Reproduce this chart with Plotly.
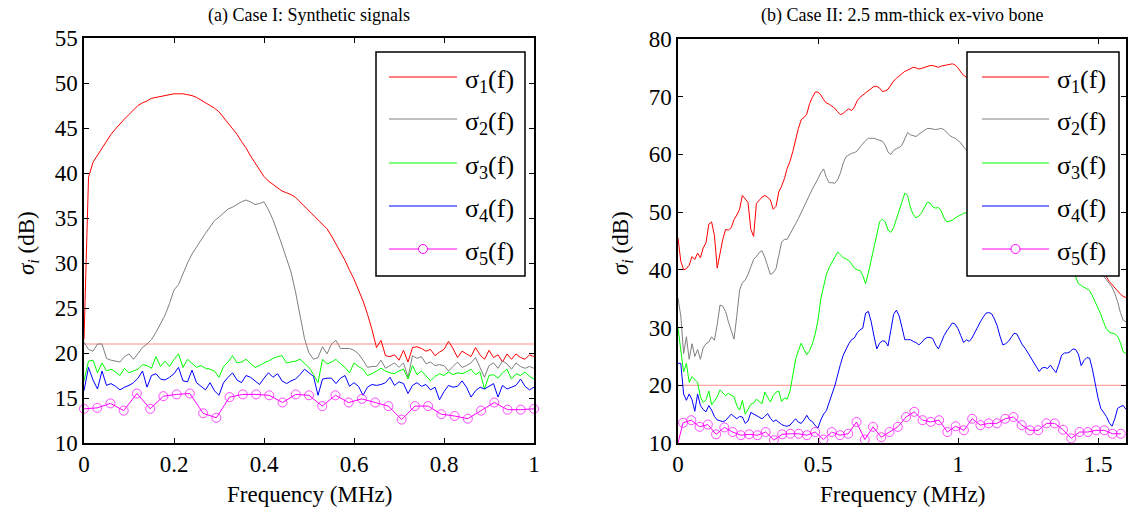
import plotly.graph_objects as go

W, H = 1139, 514
FONT = "Liberation Serif, Times New Roman, serif"

# ---------------- Panel (a): synthetic signals ----------------
freq_a = [round(0.01 * i, 2) for i in range(101)]
sigma1_a = [21.5, 39.5, 41.2, 42.0, 42.7, 43.5, 44.3, 44.9, 45.5, 46.0,
            46.5, 47.0, 47.5, 47.8, 48.0, 48.3, 48.4, 48.5, 48.6, 48.7,
            48.8, 48.8, 48.8, 48.7, 48.6, 48.4, 48.1, 47.8, 47.5, 47.2,
            46.8, 46.2, 45.6, 45.0, 44.3, 43.5, 42.8, 41.9, 41.1, 40.3,
            39.6, 39.1, 38.7, 38.3, 38.0, 37.8, 37.6, 37.3, 36.8, 36.3,
            35.9, 35.4, 34.9, 34.4, 33.8, 33.0, 32.1, 31.2, 30.3, 29.2,
            28.2, 27.0, 25.8, 24.3, 22.6, 20.6, 21.4, 19.7, 19.6, 19.8,
            19.2, 20.3, 19.0, 20.6, 20.7, 20.5, 20.2, 20.4, 19.7, 20.1,
            20.4, 21.3, 20.5, 19.5, 20.2, 19.9, 19.6, 20.6, 19.8, 19.3,
            20.3, 19.5, 19.8, 19.0, 19.9, 19.3, 19.9, 19.5, 19.3, 19.8,
            19.6]
sigma2_a = [21.2, 20.4, 20.2, 21.0, 21.0, 19.4, 19.2, 19.1, 19.0, 19.6,
            19.9, 19.3, 20.0, 20.6, 21.0, 21.5, 22.3, 23.3, 24.2, 25.5,
            27.0, 27.6, 28.9, 30.0, 31.0, 31.8, 32.6, 33.3, 34.0, 34.7,
            35.1, 35.6, 36.0, 36.2, 36.5, 36.8, 37.0, 36.8, 36.5, 36.6,
            36.8, 35.9, 34.8, 33.5, 32.0, 30.5, 29.0, 26.8, 24.0, 21.6,
            20.0, 19.3, 19.5, 20.7, 19.9, 21.0, 21.4, 20.5, 20.5, 20.5,
            20.3, 19.9, 19.2, 18.4, 18.5, 18.5, 19.2, 18.3, 18.6, 18.9,
            18.4, 18.9, 17.3, 19.7, 19.4, 19.6, 18.8, 19.0, 18.6, 18.7,
            18.6, 18.0, 18.5, 19.0, 18.4, 18.6, 18.9, 19.5, 18.4, 17.3,
            18.6, 18.9, 18.3, 19.1, 18.8, 18.2, 18.9, 18.5, 18.3, 18.5,
            18.3]
sigma3_a = [16.9, 19.1, 19.2, 17.8, 18.9, 18.0, 18.2, 17.9, 17.5, 18.3,
            17.8, 18.0, 18.2, 18.7, 18.6, 18.3, 19.6, 18.5, 19.1, 18.5,
            19.3, 19.9, 18.4, 19.3, 18.8, 18.4, 18.6, 18.3, 18.2, 18.0,
            17.3, 18.5, 19.0, 19.7, 18.9, 19.0, 19.3, 18.8, 18.4, 18.6,
            18.9, 19.1, 19.4, 19.6, 19.7, 18.9, 19.0, 19.1, 19.3, 18.9,
            18.4, 17.6, 16.7, 19.3, 18.8, 19.0, 19.3, 18.8, 18.4, 17.8,
            18.9, 18.5, 18.2, 17.5, 17.7, 18.0, 18.3, 18.0, 17.8, 17.7,
            18.0, 18.2, 17.1, 18.6, 17.6, 18.0, 17.4, 16.9, 17.4, 17.7,
            17.5, 17.9, 17.6, 17.8, 17.7, 17.9, 18.2, 17.6, 17.9, 16.0,
            17.5, 17.6, 17.2, 17.8, 18.2, 17.1, 17.7, 17.5, 17.9, 17.4,
            17.1]
sigma4_a = [15.8, 18.4, 17.0, 16.0, 18.0, 16.4, 16.6, 16.3, 15.9, 16.2,
            16.4, 16.7, 17.2, 18.0, 16.2, 17.5, 17.7, 17.1, 17.0, 17.3,
            17.7, 18.4, 16.9, 16.8, 18.1, 16.7, 16.3, 15.9, 16.7, 15.8,
            15.3, 16.7, 17.3, 17.8, 17.0, 16.7, 17.5, 17.3, 16.9, 16.5,
            17.2, 17.8, 17.3, 17.7, 16.9, 16.6, 16.9, 17.1, 17.6, 18.2,
            17.8, 17.4, 15.3, 17.1, 17.2, 17.2, 16.6, 17.2, 17.5, 16.3,
            16.7, 16.3, 15.3, 16.2, 16.5, 16.4, 16.5, 16.7, 17.3, 16.4,
            16.8, 16.6, 15.5, 16.4, 16.7, 16.3, 16.5, 15.9, 16.2, 14.8,
            15.7, 16.4, 16.2, 16.3, 16.9, 16.2, 15.1, 15.8, 16.2, 16.0,
            16.3, 16.6, 15.1, 16.4, 16.0, 16.2, 16.4, 17.1, 16.3, 15.9,
            16.2]
freq5_a = [round(i / 34, 4) for i in range(35)]
sigma5_a = [13.8, 13.9, 14.4, 13.6, 15.5, 13.8, 15.2, 15.4, 15.5, 13.3,
            12.8, 15.1, 15.4, 15.4, 15.3, 14.5, 15.4, 15.3, 14.1, 15.3,
            14.5, 14.9, 14.5, 14.1, 12.6, 14.1, 14.1, 13.2, 13.0, 12.7,
            13.6, 14.5, 13.7, 13.7, 13.8]
threshold_a = 21.0

# ---------------- Panel (b): ex-vivo bone ----------------
freq_b = [round(0.01 * i, 2) for i in range(161)]
sigma1_b = [45.5, 41.5, 40.0, 40.2, 40.8, 42.3, 41.8, 42.9, 42.1, 43.8,
            44.7, 47.9, 48.3, 46.0, 40.3, 43.0, 45.3, 47.0, 46.9, 47.3,
            48.7, 49.5, 50.5, 52.9, 52.3, 51.7, 47.0, 45.8, 51.5, 52.0,
            52.6, 52.9, 52.6, 52.1, 50.5, 51.0, 53.5, 54.5, 55.8, 57.6,
            58.8, 60.5, 62.6, 64.5, 66.0, 66.4, 67.0, 68.8, 69.9, 70.8,
            70.8, 70.3, 69.5, 68.9, 68.7, 68.4, 68.0, 67.4, 66.9, 67.1,
            67.6, 67.9, 67.6, 68.2, 69.3, 69.9, 70.3, 70.7, 71.0, 71.4,
            71.8, 71.8, 71.5, 70.9, 71.0, 71.3, 72.1, 72.7, 73.2, 73.6,
            74.0, 74.4, 74.6, 74.9, 75.1, 75.0, 74.8, 74.9, 75.1, 75.3,
            75.4, 75.4, 75.2, 75.1, 75.3, 75.4, 75.5, 75.7, 75.7, 75.5,
            75.0, 74.3, 73.7, 73.4, 73.0, 72.6, 72.1, 71.6, 71.0, 70.4,
            69.8, 69.2, 68.5, 67.8, 67.1, 66.3, 65.5, 64.7, 63.9, 63.0,
            62.2, 61.3, 60.5, 59.6, 58.8, 57.9, 57.0, 56.2, 55.3, 54.5,
            53.6, 52.8, 51.9, 51.1, 50.2, 49.4, 48.6, 47.8, 47.0, 46.3,
            45.6, 44.9, 44.2, 43.6, 43.0, 42.4, 41.9, 41.4, 40.9, 40.5,
            40.1, 39.7, 39.3, 38.8, 38.0, 37.4, 37.0, 36.4, 35.8, 35.4,
            35.2]
sigma2_b = [35.1, 32.0, 25.5, 28.4, 24.5, 27.2, 25.0, 26.2, 24.5, 26.5,
            27.2, 27.5, 28.4, 27.8, 30.5, 33.9, 33.7, 32.8, 31.0, 29.5,
            28.0, 32.0, 36.5, 37.8, 38.2, 39.2, 40.7, 41.8, 42.3, 43.0,
            43.3, 42.2, 40.7, 39.2, 39.5, 40.2, 42.5, 44.8, 45.3, 45.3,
            46.2, 47.2, 48.0, 48.9, 50.0, 50.9, 51.9, 53.0, 54.0, 54.8,
            55.8, 56.8, 57.5, 56.0, 55.1, 55.1, 55.0, 55.6, 56.8, 58.5,
            59.6, 59.9, 60.2, 60.3, 60.6, 61.3, 61.9, 62.4, 62.8, 62.8,
            62.8, 62.6, 62.5, 62.3, 61.6, 60.4, 60.0, 60.7, 61.0, 61.2,
            61.6, 62.7, 63.8, 63.4, 63.2, 63.1, 63.5, 63.8, 64.1, 64.5,
            64.5, 64.4, 64.3, 64.4, 64.5, 64.3, 63.7, 63.3, 63.0, 62.8,
            62.4, 62.0, 61.3, 60.7, 60.2, 59.8, 59.5, 59.1, 58.6, 58.2,
            57.8, 57.1, 56.5, 56.0, 55.6, 55.0, 54.3, 53.7, 53.2, 52.4,
            51.8, 51.2, 50.3, 49.6, 49.0, 48.1, 47.5, 46.8, 46.0, 45.5,
            44.8, 44.1, 43.7, 43.0, 42.6, 42.1, 41.7, 41.4, 41.0, 40.8,
            40.5, 40.4, 40.2, 40.1, 40.0, 39.9, 39.8, 39.6, 39.5, 39.4,
            39.3, 39.1, 38.9, 38.3, 37.7, 37.0, 35.9, 34.5, 32.6, 31.3,
            31.0]
sigma3_b = [29.9, 26.5, 22.3, 23.8, 20.5, 21.5, 21.0, 20.5, 18.0, 17.0,
            17.5, 19.0, 16.6, 17.2, 18.0, 19.2, 18.6, 18.2, 18.6, 18.3,
            18.0, 16.5, 15.7, 17.4, 15.0, 15.8, 16.7, 16.9, 17.6, 17.2,
            16.8, 18.8, 18.0, 17.1, 18.2, 18.8, 19.0, 17.2, 17.8, 17.6,
            19.0, 22.0, 24.5, 26.0, 27.3, 26.2, 25.3, 26.0, 27.2, 28.9,
            31.3, 35.0, 37.3, 39.2, 40.4, 41.3, 42.3, 43.1, 42.6, 42.1,
            41.9, 41.6, 41.0, 40.3, 40.0, 39.9, 39.0, 37.6, 39.5, 41.6,
            43.8, 46.0, 48.3, 48.8, 48.3, 46.9, 46.5, 47.3, 48.8, 50.4,
            52.2, 53.3, 52.9, 50.8, 49.6, 49.0, 49.3, 49.9, 50.8, 51.7,
            51.6, 50.9, 50.7, 50.8, 50.2, 49.0, 48.3, 48.4, 48.6, 49.0,
            49.3, 49.6, 49.8, 49.9, 50.1, 50.4, 50.2, 49.9, 50.3, 50.0,
            49.5, 49.0, 48.6, 48.8, 48.2, 47.6, 47.0, 46.6, 46.9, 46.2,
            45.5, 45.0, 44.6, 44.9, 44.3, 43.7, 43.4, 43.0, 42.5, 42.8,
            42.2, 41.7, 41.4, 41.0, 40.7, 40.9, 40.4, 40.1, 39.8, 39.6,
            39.4, 39.2, 38.8, 37.6, 37.3, 37.0, 36.8, 36.4, 35.5, 34.4,
            33.5, 32.3, 30.9, 29.8, 29.2, 29.1, 28.9, 28.5, 27.4, 25.8,
            25.5]
sigma4_b = [23.8, 23.8, 18.5, 17.4, 18.5, 17.5, 15.5, 18.5, 16.5, 15.8,
            15.4, 16.5, 15.7, 14.6, 14.0, 13.9, 13.7, 13.9, 14.5, 15.0,
            14.6, 14.2, 14.6, 14.5, 13.4, 13.8, 15.3, 15.0, 14.8, 14.5,
            14.2, 14.6, 15.1, 14.3, 13.7, 14.0, 13.6, 13.2, 13.0, 12.9,
            13.1, 13.6, 14.2, 13.6, 13.4, 14.0, 14.8, 14.0, 13.7, 13.0,
            12.6, 14.0, 15.0, 15.6, 16.9, 18.5, 19.9, 22.0, 23.6, 25.2,
            26.2, 27.2, 27.9, 28.2, 29.1, 29.6, 29.9, 32.5, 32.8, 31.0,
            28.5, 26.3, 27.3, 27.7, 27.6, 26.8, 29.5, 32.3, 33.0, 32.0,
            30.0, 27.9, 27.9, 27.9, 27.6, 27.4, 27.0, 27.4, 28.0, 28.3,
            28.3, 28.1, 27.0, 26.3, 27.4, 28.6, 29.4, 30.0, 30.8, 30.6,
            29.8, 28.6, 27.4, 27.9, 27.6, 28.2, 29.2, 30.2, 31.0, 31.8,
            32.5, 32.6, 32.4, 31.5, 30.3, 28.5, 27.0, 27.2, 27.6, 28.3,
            29.0, 28.9, 27.8, 27.0, 26.4, 25.6, 25.0, 24.1, 23.3, 22.4,
            23.0, 23.1, 22.9, 23.5, 22.8, 22.2, 23.6, 25.2, 25.6, 25.6,
            25.8, 26.3, 26.2, 25.4, 23.4, 24.3, 24.8, 24.7, 22.8, 20.2,
            17.8, 16.0, 15.2, 14.6, 13.5, 12.9, 14.2, 16.0, 16.3, 16.5,
            15.8]
freq5_b = [0.0] + [round(0.018 + 0.0295 * i, 4) for i in range(54)]
sigma5_b = [10.0,
            13.5, 13.95, 12.8, 13.2, 11.5, 12.7, 11.9, 11.35, 11.5, 11.35,
            11.9, 10.5, 11.5, 11.6, 11.6, 11.35, 11.9, 10.6, 11.9, 11.35,
            11.6, 13.65, 10.6, 12.8, 11.0, 11.9, 12.8, 14.5, 15.4, 13.95,
            13.65, 13.95, 11.9, 12.9, 12.2, 14.2, 13.1, 13.4, 13.4, 14.2,
            14.5, 13.1, 12.2, 12.2, 13.4, 13.4, 12.3, 10.8, 11.9, 11.9,
            12.2, 12.2, 11.6, 11.6]
threshold_b = 20.0

legend_names = ["σ<sub>1</sub>(f)", "σ<sub>2</sub>(f)", "σ<sub>3</sub>(f)",
                "σ<sub>4</sub>(f)", "σ<sub>5</sub>(f)"]
colors = ["#ff0000", "#808080", "#00ff00", "#0000ff", "#ff00ff"]

fig = go.Figure()


def add_panel(freq, series, freq5, s5, thr, xa, ya, xmax):
    fig.add_trace(go.Scatter(x=[0, xmax], y=[thr, thr], mode="lines",
                             line=dict(color="#ff8c8c", width=1),
                             xaxis=xa, yaxis=ya, showlegend=False,
                             hoverinfo="skip"))
    for k, s in enumerate(series):
        fig.add_trace(go.Scatter(x=freq[:len(s)], y=s, mode="lines",
                                 name=legend_names[k],
                                 line=dict(color=colors[k], width=1),
                                 xaxis=xa, yaxis=ya, showlegend=False))
    sizes = [9] * len(s5)
    if freq5[0] == 0.0 and s5[0] <= 10.0:
        sizes[0] = 0
    fig.add_trace(go.Scatter(x=freq5[:len(s5)], y=s5, mode="lines+markers",
                             name=legend_names[4],
                             line=dict(color=colors[4], width=1),
                             marker=dict(symbol="circle-open", size=sizes,
                                         color=colors[4],
                                         line=dict(width=1, color=colors[4])),
                             cliponaxis=False,
                             xaxis=xa, yaxis=ya, showlegend=False))


add_panel(freq_a, [sigma1_a, sigma2_a, sigma3_a, sigma4_a], freq5_a, sigma5_a,
          threshold_a, "x", "y", 1.0)
add_panel(freq_b, [sigma1_b, sigma2_b, sigma3_b, sigma4_b], freq5_b, sigma5_b,
          threshold_b, "x2", "y2", 1.6)

axis_common = dict(showline=True, linecolor="black", linewidth=1.5,
                   mirror="ticks", ticks="inside", ticklen=5, tickwidth=1,
                   tickcolor="black", showgrid=False, zeroline=False,
                   automargin=False,
                   tickfont=dict(family=FONT, size=23, color="black"))

fig.update_layout(
    width=W, height=H,
    margin=dict(l=0, r=0, t=0, b=0),
    paper_bgcolor="white", plot_bgcolor="white",
    font=dict(family=FONT, color="black"),
    showlegend=False,
    xaxis=dict(domain=[84 / W, 534 / W], range=[0, 1], dtick=0.2,
               anchor="y", **axis_common),
    yaxis=dict(domain=[1 - 443 / H, 1 - 38 / H], range=[10, 55], dtick=5,
               anchor="x", **axis_common),
    xaxis2=dict(domain=[678 / W, 1126 / W], range=[0, 1.6], dtick=0.5,
                anchor="y2", **axis_common),
    yaxis2=dict(domain=[1 - 443 / H, 1 - 39 / H], range=[10, 80], dtick=10,
                anchor="x2", **axis_common),
)


def P(px, py):
    return px / W, 1 - py / H


# ---- legend boxes drawn on top of the data (as in the reference) ----
legend_boxes = [(376, 52, 525, 276), (967, 52, 1119, 276)]
legend_line_x = [(389, 457), (982, 1049)]
legend_text_x = [463, 1055]
legend_rows = [77, 119, 163, 206, 249]
for (x0, y0, x1, y1), (lx0, lx1), tx in zip(legend_boxes, legend_line_x,
                                            legend_text_x):
    a0, b0 = P(x0, y1)
    a1, b1 = P(x1, y0)
    fig.add_shape(type="rect", xref="paper", yref="paper", x0=a0, y0=b0,
                  x1=a1, y1=b1, fillcolor="white",
                  line=dict(color="black", width=1.5), layer="above")
    for k, ry in enumerate(legend_rows):
        ua, ub = P(lx0, ry)
        va, _ = P(lx1, ry)
        fig.add_shape(type="line", xref="paper", yref="paper", x0=ua, y0=ub,
                      x1=va, y1=ub, line=dict(color=colors[k], width=1),
                      layer="above")
        if k == 4:
            cx = (lx0 + lx1) / 2
            c0 = P(cx - 4.5, ry + 4.5)
            c1 = P(cx + 4.5, ry - 4.5)
            fig.add_shape(type="circle", xref="paper", yref="paper",
                          x0=c0[0], y0=c0[1], x1=c1[0], y1=c1[1],
                          fillcolor="white", line=dict(color=colors[4], width=1),
                          layer="above")
        tpx, tpy = P(tx, ry + 4)
        fig.add_annotation(text=legend_names[k], x=tpx, y=tpy, xref="paper",
                           yref="paper", xanchor="left", yanchor="middle",
                           showarrow=False,
                           font=dict(family=FONT, size=26, color="black"))

# ---- titles ----
title_font = dict(family=FONT, size=18, color="black")
for cx, txt in ((309, "(a) Case I: Synthetic signals"),
                (902, "(b) Case II: 2.5 mm-thick ex-vivo bone")):
    px_, py_ = P(cx, 15)
    fig.add_annotation(text=txt, x=px_, y=py_, xref="paper", yref="paper",
                       xanchor="center", yanchor="middle", showarrow=False,
                       font=title_font)

ann_font = dict(family=FONT, size=23, color="black")
for cx in (309, 902):
    px_, py_ = P(cx, 494)
    fig.add_annotation(text="Frequency (MHz)", x=px_, y=py_, xref="paper",
                       yref="paper", xanchor="center", yanchor="middle",
                       showarrow=False, font=ann_font)
for cx in (28, 622):
    px_, py_ = P(cx, 243)
    fig.add_annotation(text="<i>σ</i><sub><i>i</i></sub> (dB)", x=px_, y=py_,
                       xref="paper", yref="paper", xanchor="center",
                       yanchor="middle", showarrow=False, textangle=-90,
                       font=ann_font)

fig.write_html("out.html",
               config={"displayModeBar": False},
               post_script="document.body.style.margin='0px';"
                           "document.body.style.overflow='hidden';")
